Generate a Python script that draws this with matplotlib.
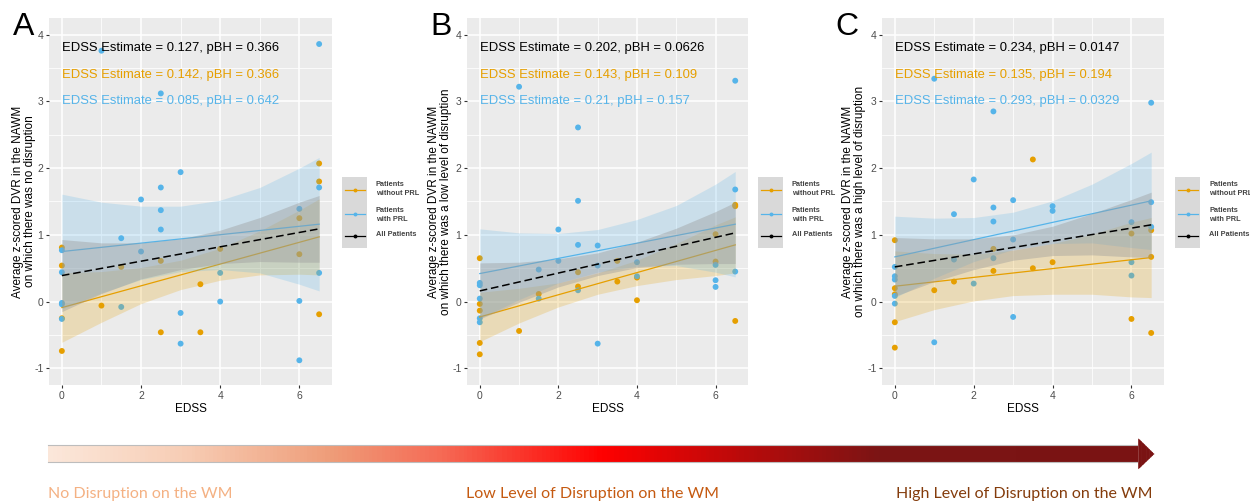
import numpy as np
import matplotlib
matplotlib.use("Agg")
import matplotlib.pyplot as plt
from matplotlib.colors import LinearSegmentedColormap
from matplotlib.collections import PolyCollection
from matplotlib.patches import Rectangle

plt.rcParams['font.family'] = ['Liberation Sans', 'DejaVu Sans']
plt.rcParams['axes.unicode_minus'] = False

# colours
ORANGE = "#E69F00"
BLUE = "#56B4E9"

# ---------------- data ----------------
panel_letters = ["A", "B", "C"]
ylabels = [
    "Average z-scored DVR in the NAWM\non which there was no disruption",
    "Average z-scored DVR in the NAWM\non which there was a low level of disruption",
    "Average z-scored DVR in the NAWM\non which there was a high level of disruption",
]
annot_all = ["EDSS Estimate = 0.127, pBH = 0.366",
             "EDSS Estimate = 0.202, pBH = 0.0626",
             "EDSS Estimate = 0.234, pBH = 0.0147"]
annot_noprl = ["EDSS Estimate = 0.142, pBH = 0.366",
               "EDSS Estimate = 0.143, pBH = 0.109",
               "EDSS Estimate = 0.135, pBH = 0.194"]
annot_prl = ["EDSS Estimate = 0.085, pBH = 0.642",
             "EDSS Estimate = 0.21, pBH = 0.157",
             "EDSS Estimate = 0.293, pBH = 0.0329"]

# Panel A - no disruption
a_x_noprl = [0, 0, 0, 0, 1, 1.5, 2.5, 2.5, 3.5, 3.5, 4, 6, 6, 6.5, 6.5, 6.5]
a_y_noprl = [0.81, 0.54, -0.25, -0.74, -0.06, 0.52, 0.61, -0.46, 0.26, -0.46,
             0.79, 1.25, 0.71, 2.07, 1.80, -0.19]
a_x_prl = [0, 0, 0, 0, 0, 1, 1.5, 1.5, 2, 2, 2.5, 2.5, 2.5, 2.5, 3, 3, 3,
           4, 4, 6, 6, 6, 6.5, 6.5, 6.5]
a_y_prl = [0.77, 0.44, -0.02, -0.04, -0.26, 3.76, 0.95, -0.08, 1.53, 0.75,
           3.12, 1.71, 1.37, 1.08, 1.94, -0.17, -0.63, 0.43, 0.0, 1.39, 0.01,
           -0.88, 3.86, 1.71, 0.43]

# Panel B - low level of disruption
b_x_noprl = [0, 0, 0, 0, 0, 1, 1.5, 2.5, 2.5, 3.5, 3.5, 4, 4, 6, 6, 6.5, 6.5, 6.5]
b_y_noprl = [0.65, -0.035, -0.135, -0.62, -0.79, -0.44, 0.115, 0.44, 0.225,
             0.61, 0.30, 0.36, 0.02, 1.01, 0.60, 1.45, 1.43, -0.29]
b_x_prl = [0, 0, 0, 0, 0, 1, 1.5, 1.5, 2, 2, 2.5, 2.5, 2.5, 2.5, 3, 3, 3,
           4, 4, 6, 6, 6, 6.5, 6.5, 6.5]
b_y_prl = [0.28, 0.245, 0.045, -0.25, -0.31, 3.22, 0.48, 0.045, 1.08, 0.61,
           2.61, 1.51, 0.85, 0.17, 0.84, 0.54, -0.63, 0.59, 0.38, 0.55, 0.32,
           0.22, 3.31, 1.68, 0.45]

# Panel C - high level of disruption
c_x_noprl = [0, 0, 0, 0, 0, 1, 1.5, 2.5, 2.5, 3.5, 3.5, 4, 6, 6, 6.5, 6.5, 6.5]
c_y_noprl = [0.92, 0.20, 0.11, -0.31, -0.69, 0.17, 0.30, 0.79, 0.46, 2.13,
             0.50, 0.59, 1.02, -0.26, 1.07, 0.67, -0.47]
c_x_prl = [0, 0, 0, 0, 0, 1, 1, 1.5, 1.5, 2, 2, 2.5, 2.5, 2.5, 2.5, 3, 3, 3,
           4, 4, 6, 6, 6, 6.5, 6.5, 6.5]
c_y_prl = [0.52, 0.38, 0.33, 0.085, -0.03, 3.34, -0.61, 1.31, 0.63, 1.83, 0.27,
           2.85, 1.41, 1.20, 0.65, 1.52, 0.93, -0.23, 1.43, 1.36, 1.19, 0.59,
           0.39, 2.98, 1.49, 1.12]

# fitted lines: value at EDSS 0 and at EDSS 6.5
fit_x = [0, 6.5]
a_fit_noprl, a_fit_prl, a_fit_all = [-0.09, 0.97], [0.75, 1.16], [0.39, 1.09]
b_fit_noprl, b_fit_prl, b_fit_all = [-0.23, 0.85], [0.42, 1.16], [0.16, 1.03]
c_fit_noprl, c_fit_prl, c_fit_all = [0.23, 0.66], [0.67, 1.51], [0.52, 1.15]

# confidence bands (lower / upper) read at these EDSS values
band_x = [0, 1, 2, 3, 4, 5, 6, 6.5]
a_lo_noprl = [-0.61, -0.31, -0.03, 0.18, 0.32, 0.40, 0.41, 0.40]
a_hi_noprl = [0.43, 0.45, 0.51, 0.62, 0.80, 1.06, 1.37, 1.54]
a_lo_prl = [-0.11, 0.13, 0.33, 0.45, 0.48, 0.43, 0.26, 0.16]
a_hi_prl = [1.61, 1.49, 1.43, 1.43, 1.52, 1.71, 2.00, 2.16]
a_lo_all = [-0.15, 0.12, 0.34, 0.48, 0.57, 0.60, 0.59, 0.59]
a_hi_all = [0.93, 0.88, 0.88, 0.94, 1.07, 1.26, 1.49, 1.59]

b_lo_noprl = [-0.60, -0.32, -0.08, 0.11, 0.24, 0.33, 0.39, 0.43]
b_hi_noprl = [0.14, 0.20, 0.28, 0.43, 0.62, 0.87, 1.15, 1.27]
b_lo_prl = [-0.25, 0.03, 0.28, 0.44, 0.53, 0.54, 0.44, 0.37]
b_hi_prl = [1.09, 1.03, 1.02, 1.08, 1.23, 1.44, 1.76, 1.95]
b_lo_all = [-0.26, -0.01, 0.22, 0.39, 0.51, 0.56, 0.57, 0.57]
b_hi_all = [0.58, 0.59, 0.64, 0.73, 0.89, 1.10, 1.35, 1.49]

c_lo_noprl = [-0.30, -0.12, 0.01, 0.09, 0.11, 0.11, 0.07, 0.06]
c_hi_noprl = [0.76, 0.72, 0.71, 0.77, 0.87, 1.01, 1.19, 1.26]
c_lo_prl = [0.06, 0.35, 0.60, 0.78, 0.87, 0.88, 0.81, 0.78]
c_hi_prl = [1.28, 1.25, 1.26, 1.34, 1.51, 1.76, 2.07, 2.24]
c_lo_all = [0.08, 0.30, 0.48, 0.62, 0.69, 0.70, 0.67, 0.66]
c_hi_all = [0.96, 0.94, 0.94, 1.00, 1.13, 1.32, 1.53, 1.64]

legend_labels = ["Patients\nwithout PRL", "Patients\nwith PRL", "All Patients"]
legend_colors = [ORANGE, BLUE, "black"]

stage_labels = ["No Disruption on the WM", "Low Level of Disruption on the WM",
                "High Level of Disruption on the WM"]
stage_colors = ["#F4B183", "#C55A11", "#843C0C"]
grad_pos = [0.0, 0.12, 0.255, 0.354, 0.5, 0.626, 0.752, 1.0]
grad_col = ["#FBE7DA", "#F7CDB5", "#EE9C78", "#F56A55", "#FF0000", "#BA0A0A",
            "#7B1414", "#7A1313"]

panels = [
    (a_x_noprl, a_y_noprl, a_x_prl, a_y_prl, a_fit_noprl, a_fit_prl, a_fit_all,
     a_lo_noprl, a_hi_noprl, a_lo_prl, a_hi_prl, a_lo_all, a_hi_all),
    (b_x_noprl, b_y_noprl, b_x_prl, b_y_prl, b_fit_noprl, b_fit_prl, b_fit_all,
     b_lo_noprl, b_hi_noprl, b_lo_prl, b_hi_prl, b_lo_all, b_hi_all),
    (c_x_noprl, c_y_noprl, c_x_prl, c_y_prl, c_fit_noprl, c_fit_prl, c_fit_all,
     c_lo_noprl, c_hi_noprl, c_lo_prl, c_hi_prl, c_lo_all, c_hi_all),
]

# ---------------- layout (pixels) ----------------
W, H = 1250, 503
fig = plt.figure(figsize=(W / 100, H / 100), dpi=100)

# overlay axes in pixel coordinates for arrow, letters, legends
ov = fig.add_axes([0, 0, 1, 1])
ov.set_xlim(0, W)
ov.set_ylim(H, 0)
ov.axis("off")

axes_px = [(49, 18, 332, 385), (467, 18, 748, 385), (882, 18, 1164, 385)]
letter_x = [13, 430, 835]
legend_x0 = [342, 758, 1175]
ylab_x = [-0.045, -0.055, -0.055]

for i, (box, data) in enumerate(zip(axes_px, panels)):
    (xn, yn, xp, yp, fn, fp, fa, lon, hin, lop, hip, loa, hia) = data
    l, t, r, b = box
    ax = fig.add_axes([l / W, 1 - b / H, (r - l) / W, (b - t) / H])
    ax.set_facecolor("#EBEBEB")
    for s in ax.spines.values():
        s.set_visible(False)
    ax.set_xlim(-0.325, 6.825)
    ax.set_ylim(-1.25, 4.25)
    ax.set_xticks([0, 2, 4, 6])
    ax.set_xticks([1, 3, 5], minor=True)
    ax.set_yticks([-1, 0, 1, 2, 3, 4])
    ax.set_yticks([-0.5, 0.5, 1.5, 2.5, 3.5], minor=True)
    ax.grid(which="major", color="white", lw=1.1)
    ax.grid(which="minor", color="white", lw=0.55)
    ax.set_axisbelow(True)
    ax.tick_params(which="major", length=2.5, width=0.8, color="#333333",
                   labelsize=7.5, labelcolor="#4D4D4D", pad=1.5)
    ax.tick_params(which="minor", length=0)

    ax.scatter(xn, yn, s=18, color=ORANGE, edgecolors="none", zorder=2)
    ax.scatter(xp, yp, s=18, color=BLUE, edgecolors="none", zorder=2)

    ax.fill_between(band_x, lon, hin, color=ORANGE, alpha=0.22, lw=0, zorder=3)
    ax.plot(fit_x, fn, color=ORANGE, lw=0.9, zorder=3)
    ax.fill_between(band_x, lop, hip, color=BLUE, alpha=0.22, lw=0, zorder=3)
    ax.plot(fit_x, fp, color=BLUE, lw=0.9, zorder=3)
    ax.fill_between(band_x, loa, hia, color="#999999", alpha=0.4, lw=0, zorder=3)
    ax.plot(fit_x, fa, color="black", lw=1.1, ls=(0, (5, 2.5)), zorder=4)

    ax.text(0, 3.8, annot_all[i], color="black", fontsize=9.4, va="center", zorder=5)
    ax.text(0, 3.4, annot_noprl[i], color=ORANGE, fontsize=9.4, va="center", zorder=5)
    ax.text(0, 3.0, annot_prl[i], color=BLUE, fontsize=9.4, va="center", zorder=5)

    ax.set_xlabel("EDSS", fontsize=8.5, labelpad=2)
    ax.set_ylabel(ylabels[i], fontsize=8.5, linespacing=1.0)
    ax.yaxis.set_label_coords(ylab_x[i], 0.5)

    # panel letter
    ov.text(letter_x[i], 35, panel_letters[i], fontsize=23, va="baseline")

    # legend
    x0 = legend_x0[i]
    ov.add_patch(Rectangle((x0, 177), 25, 71, color="#D9D9D9", lw=0))
    key_y = [190, 214, 236]
    text_y = [189, 215, 234]
    for ky, ty, lab, col in zip(key_y, text_y, legend_labels, legend_colors):
        ov.plot([x0 + 2.5, x0 + 22.5], [ky, ky], color=col, lw=0.9)
        ov.plot([x0 + 12.5], [ky], marker="o", ms=2.8, color=col, mec="none")
        ov.text(x0 + 34, ty, lab, fontsize=5.3, color="#444444", va="center",
                linespacing=1.45, fontweight="bold")

# ---------------- gradient arrow (thin vertical strips) ----------------
ax_l, head_b, tip = 48, 1137, 1154
body_t, body_b, head_t, head_bt, mid = 445, 462.3, 437.3, 470.3, 454
cmap = LinearSegmentedColormap.from_list("disrupt", list(zip(grad_pos, grad_col)))


def arrow_edges(x):
    if x <= head_b:
        return body_t, body_b
    f = (x - head_b) / (tip - head_b)
    return head_t + f * (mid - head_t), head_bt - f * (head_bt - mid)


edges = np.linspace(ax_l, tip, 700)
polys, cols = [], []
for x1, x2 in zip(edges[:-1], edges[1:]):
    t1, b1 = arrow_edges(x1)
    t2, b2 = arrow_edges(x2)
    if x1 < head_b < x2:
        x2 = head_b
        t2, b2 = body_t, body_b
    polys.append([(x1, t1), (x2 + 0.6, t2), (x2 + 0.6, b2), (x1, b1)])
    cols.append(cmap((x1 - ax_l) / (tip - ax_l)))
ov.add_collection(PolyCollection(polys, facecolors=cols, edgecolors="none",
                                 zorder=1))
ov.plot([ax_l, head_b], [body_t, body_t], color="#BDBDBD", lw=0.8, zorder=2)
ov.plot([ax_l, head_b], [body_b, body_b], color="#BDBDBD", lw=0.8, zorder=2)
ov.set_xlim(0, W)
ov.set_ylim(H, 0)

ov.text(48, 498, stage_labels[0], color=stage_colors[0], fontsize=11.5,
        family=["Lato", "DejaVu Sans"], ha="left", va="baseline")
ov.text(593, 498, stage_labels[1], color=stage_colors[1], fontsize=11.5,
        family=["Lato", "DejaVu Sans"], ha="center", va="baseline")
ov.text(1152, 498, stage_labels[2], color=stage_colors[2], fontsize=11.5,
        family=["Lato", "DejaVu Sans"], ha="right", va="baseline")

fig.savefig("out.png", dpi=100)
